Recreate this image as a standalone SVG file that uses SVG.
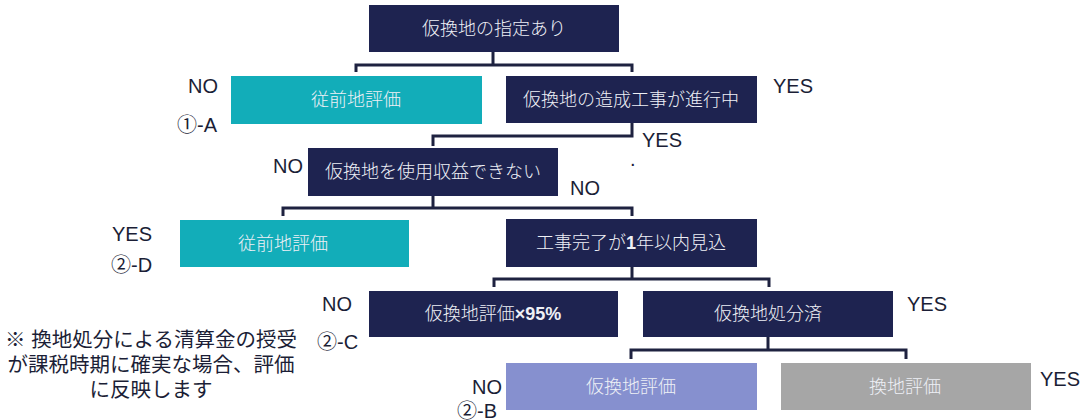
<svg xmlns="http://www.w3.org/2000/svg" width="1092" height="420" viewBox="0 0 1092 420">
<style>
.navy{fill:#1e2350}
.teal{fill:#12adb9}
.lav{fill:#8690cf}
.grey{fill:#a6a6a6}
.bt{font-family:"Liberation Sans","Noto Sans CJK JP",sans-serif;font-size:18px;font-weight:300;fill:#eef0f6;text-anchor:middle}
.b{font-weight:bold}
.lb{font-family:"Liberation Sans","Noto Sans CJK JP",sans-serif;font-size:20px;fill:#1b1e36}
.note{font-family:"Liberation Sans","Noto Sans CJK JP",sans-serif;font-size:20.5px;fill:#1b1e36;text-anchor:middle}
.conn{fill:none;stroke:#1e2240;stroke-width:3;stroke-linejoin:miter;stroke-linecap:butt}
</style>
<rect width="1092" height="420" fill="#ffffff"/>
<g id="connectors">
<path class="conn" d="M493 52V65M356 72V65H632V72"/>
<path class="conn" d="M632 123V136H433V146"/>
<path class="conn" d="M433 196V208M283 216V208H632V216"/>
<path class="conn" d="M632 267V279M494 287V279H769V287"/>
<path class="conn" d="M768 337V350M631 359V350H906V359"/>
</g>
<g id="n1"><rect class="navy" x="369" y="5" width="250" height="47"/><text class="bt" x="494" y="35">仮換地の指定あり</text></g>
<g id="n2"><rect class="teal" x="231" y="76" width="251" height="48"/><text class="bt" x="356" y="106">従前地評価</text></g>
<g id="n3"><rect class="navy" x="506" y="76" width="251" height="47"/><text class="bt" x="631" y="106">仮換地の造成工事が進行中</text></g>
<g id="n4"><rect class="navy" x="308" y="148" width="250" height="48"/><text class="bt" x="433" y="178">仮換地を使用収益できない</text></g>
<g id="n5"><rect class="teal" x="180" y="220" width="229" height="47"/><text class="bt" x="283" y="250">従前地評価</text></g>
<g id="n6"><rect class="navy" x="506" y="219" width="251" height="48"/><text class="bt" x="631" y="249">工事完了が<tspan class="b">1</tspan>年以内見込</text></g>
<g id="n7"><rect class="navy" x="369" y="291" width="249" height="46"/><text class="bt" x="493" y="320">仮換地評価<tspan class="b">×95%</tspan></text></g>
<g id="n8"><rect class="navy" x="643" y="291" width="250" height="46"/><text class="bt" x="768" y="320">仮換地処分済</text></g>
<g id="n9"><rect class="lav" x="506" y="363" width="251" height="47"/><text class="bt" x="631" y="393">仮換地評価</text></g>
<g id="n10"><rect class="grey" x="781" y="363" width="250" height="47"/><text class="bt" x="905" y="393">換地評価</text></g>
<g id="labels">
<text class="lb" x="188" y="93">NO</text>
<text class="lb" x="177" y="132">①-A</text>
<text class="lb" x="773" y="93">YES</text>
<text class="lb" x="642" y="147">YES</text>
<text class="lb" x="630" y="166">.</text>
<text class="lb" x="273" y="173">NO</text>
<text class="lb" x="570" y="195">NO</text>
<text class="lb" x="112" y="241">YES</text>
<text class="lb" x="111" y="272">②-D</text>
<text class="lb" x="322" y="311">NO</text>
<text class="lb" x="317" y="349">②-C</text>
<text class="lb" x="907" y="311">YES</text>
<text class="lb" x="472" y="394">NO</text>
<text class="lb" x="457" y="418">②-B</text>
<text class="lb" x="1040" y="386">YES</text>
</g>
<g id="note">
<text class="note" x="151" y="347">※ 換地処分による清算金の授受</text>
<text class="note" x="151" y="372">が課税時期に確実な場合、評価</text>
<text class="note" x="151" y="397">に反映します</text>
</g>
</svg>
